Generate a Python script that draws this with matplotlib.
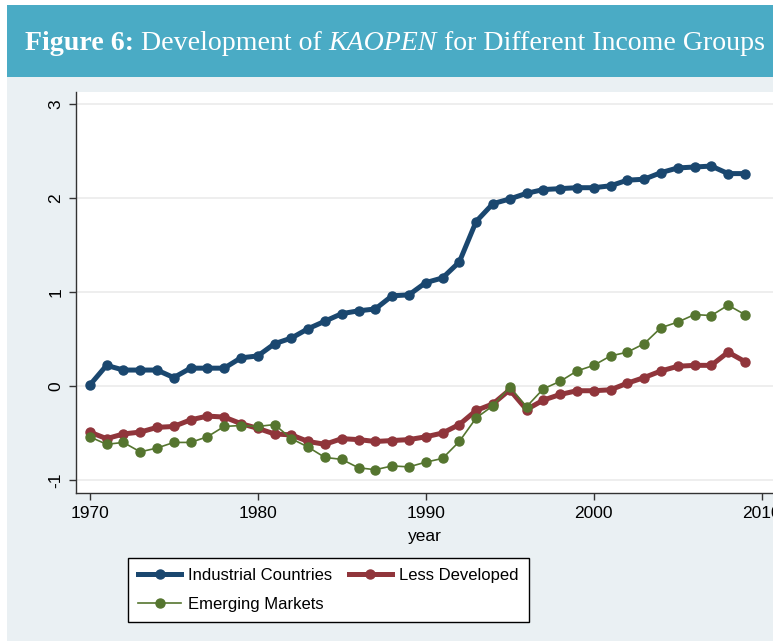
import matplotlib
matplotlib.use("Agg")
import matplotlib.pyplot as plt
from matplotlib.patches import Rectangle
import numpy as np

years = list(range(1970, 2010))
industrial = [0.01, 0.22, 0.17, 0.17, 0.17, 0.09, 0.19, 0.19, 0.19, 0.30,
              0.32, 0.45, 0.51, 0.61, 0.69, 0.77, 0.80, 0.82, 0.96, 0.97,
              1.10, 1.15, 1.32, 1.75, 1.94, 1.99, 2.05, 2.09, 2.10, 2.11,
              2.11, 2.13, 2.19, 2.20, 2.27, 2.32, 2.33, 2.34, 2.26, 2.26]
less_developed = [-0.49, -0.56, -0.51, -0.49, -0.44, -0.43, -0.36, -0.32, -0.33, -0.40,
                  -0.45, -0.51, -0.52, -0.59, -0.62, -0.56, -0.57, -0.59, -0.58, -0.57,
                  -0.54, -0.50, -0.41, -0.26, -0.19, -0.04, -0.25, -0.15, -0.09, -0.05,
                  -0.05, -0.04, 0.03, 0.09, 0.16, 0.21, 0.22, 0.22, 0.36, 0.26]
emerging = [-0.54, -0.62, -0.60, -0.70, -0.66, -0.60, -0.60, -0.54, -0.43, -0.42,
            -0.43, -0.41, -0.56, -0.65, -0.76, -0.78, -0.87, -0.89, -0.85, -0.86,
            -0.81, -0.77, -0.59, -0.34, -0.21, -0.01, -0.22, -0.03, 0.05, 0.16,
            0.22, 0.32, 0.36, 0.45, 0.62, 0.68, 0.76, 0.75, 0.86, 0.76]
labels = ["Industrial Countries", "Less Developed", "Emerging Markets"]
xticks = [1970, 1980, 1990, 2000, 2010]
yticks = [-1, 0, 1, 2, 3]

W, H = 773, 641
BG = "#eaf0f3"
TEAL = "#4aabc5"
NAVY = "#1a476f"
MAROON = "#90353b"
GREEN = "#55752f"

sans = "Liberation Sans"
fs = 12.5
lfs = 12

fig = plt.figure(figsize=(W / 100, H / 100), dpi=100, facecolor=BG)

# white borders and header band
fig.patches.append(Rectangle((0, 0), 7 / W, 1, transform=fig.transFigure,
                             facecolor="white", edgecolor="none", zorder=0))
fig.patches.append(Rectangle((0, 1 - 5 / H), 1, 5 / H, transform=fig.transFigure,
                             facecolor="white", edgecolor="none", zorder=0))
fig.patches.append(Rectangle((7 / W, 1 - 77 / H), 1, 72 / H, transform=fig.transFigure,
                             facecolor=TEAL, edgecolor="none", zorder=0))

# title in pieces
serif = "Liberation Serif"
tsize = 20.1
pieces = [("Figure 6:", "bold", "normal"),
          (" Development of ", "normal", "normal"),
          ("KAOPEN", "normal", "italic"),
          (" for Different Income Groups", "normal", "normal")]
renderer = fig.canvas.get_renderer()
xpix = 25
ybase = 1 - 50 / H
for txt, wt, st in pieces:
    t = fig.text(xpix / W, ybase, txt, color="white", fontsize=tsize, family=serif,
                 fontweight=wt, fontstyle=st, ha="left", va="baseline")
    bb = t.get_window_extent(renderer=renderer)
    xpix += bb.width

# axes
left, bottom_px, top_px, right_px = 76, 493, 92, 800
ax = fig.add_axes([left / W, 1 - bottom_px / H, (right_px - left) / W, (bottom_px - top_px) / H])
ax.set_facecolor("white")
ax.set_xlim(1969.18, 2012.28)
ax.set_ylim(-1.138, 3.128)

for v in yticks:
    ax.axhline(v, color="#ebebeb", lw=1.2, zorder=0)

ax.plot(years, industrial, color=NAVY, lw=3.6, marker="o", ms=6.5, label=labels[0], zorder=3)
ax.plot(years, less_developed, color=MAROON, lw=3.6, marker="o", ms=6.5, label=labels[1], zorder=3)
ax.plot(years, emerging, color=GREEN, lw=1.2, marker="o", ms=6.5, label=labels[2], zorder=3)

for s in ["top", "right"]:
    ax.spines[s].set_visible(False)
for s in ["left", "bottom"]:
    ax.spines[s].set_color("#333333")
    ax.spines[s].set_linewidth(1.0)

ax.set_xticks(xticks)
ax.set_yticks(yticks)
ax.set_xticklabels([str(x) for x in xticks], fontsize=fs, family=sans)
ax.set_yticklabels([str(y) for y in yticks], fontsize=fs, family=sans, rotation=90, va="center")
ax.tick_params(axis="both", direction="out", length=5, width=1, color="#333333")
ax.tick_params(axis="x", pad=4)
ax.tick_params(axis="y", pad=4)
ax.set_xlabel("year", fontsize=fs, family=sans, labelpad=0)
ax.xaxis.set_label_coords((425 - left) / (right_px - left), -(537 - bottom_px) / (bottom_px - top_px))
ax.xaxis.label.set_va("center")

h, l = ax.get_legend_handles_labels()
order = [0, 2, 1]
leg = fig.legend([h[i] for i in order], [l[i] for i in order], ncol=2,
                 loc="upper left", bbox_to_anchor=(128 / W, 1 - 558 / H),
                 prop={"family": sans, "size": lfs}, frameon=True, fancybox=False,
                 edgecolor="black", facecolor="white", framealpha=1,
                 handlelength=2.55, columnspacing=1.0, labelspacing=0.8,
                 borderpad=0.62, handletextpad=0.45, borderaxespad=0)
leg.get_frame().set_linewidth(1.0)

fig.savefig("out.png", dpi=100, facecolor=BG)
